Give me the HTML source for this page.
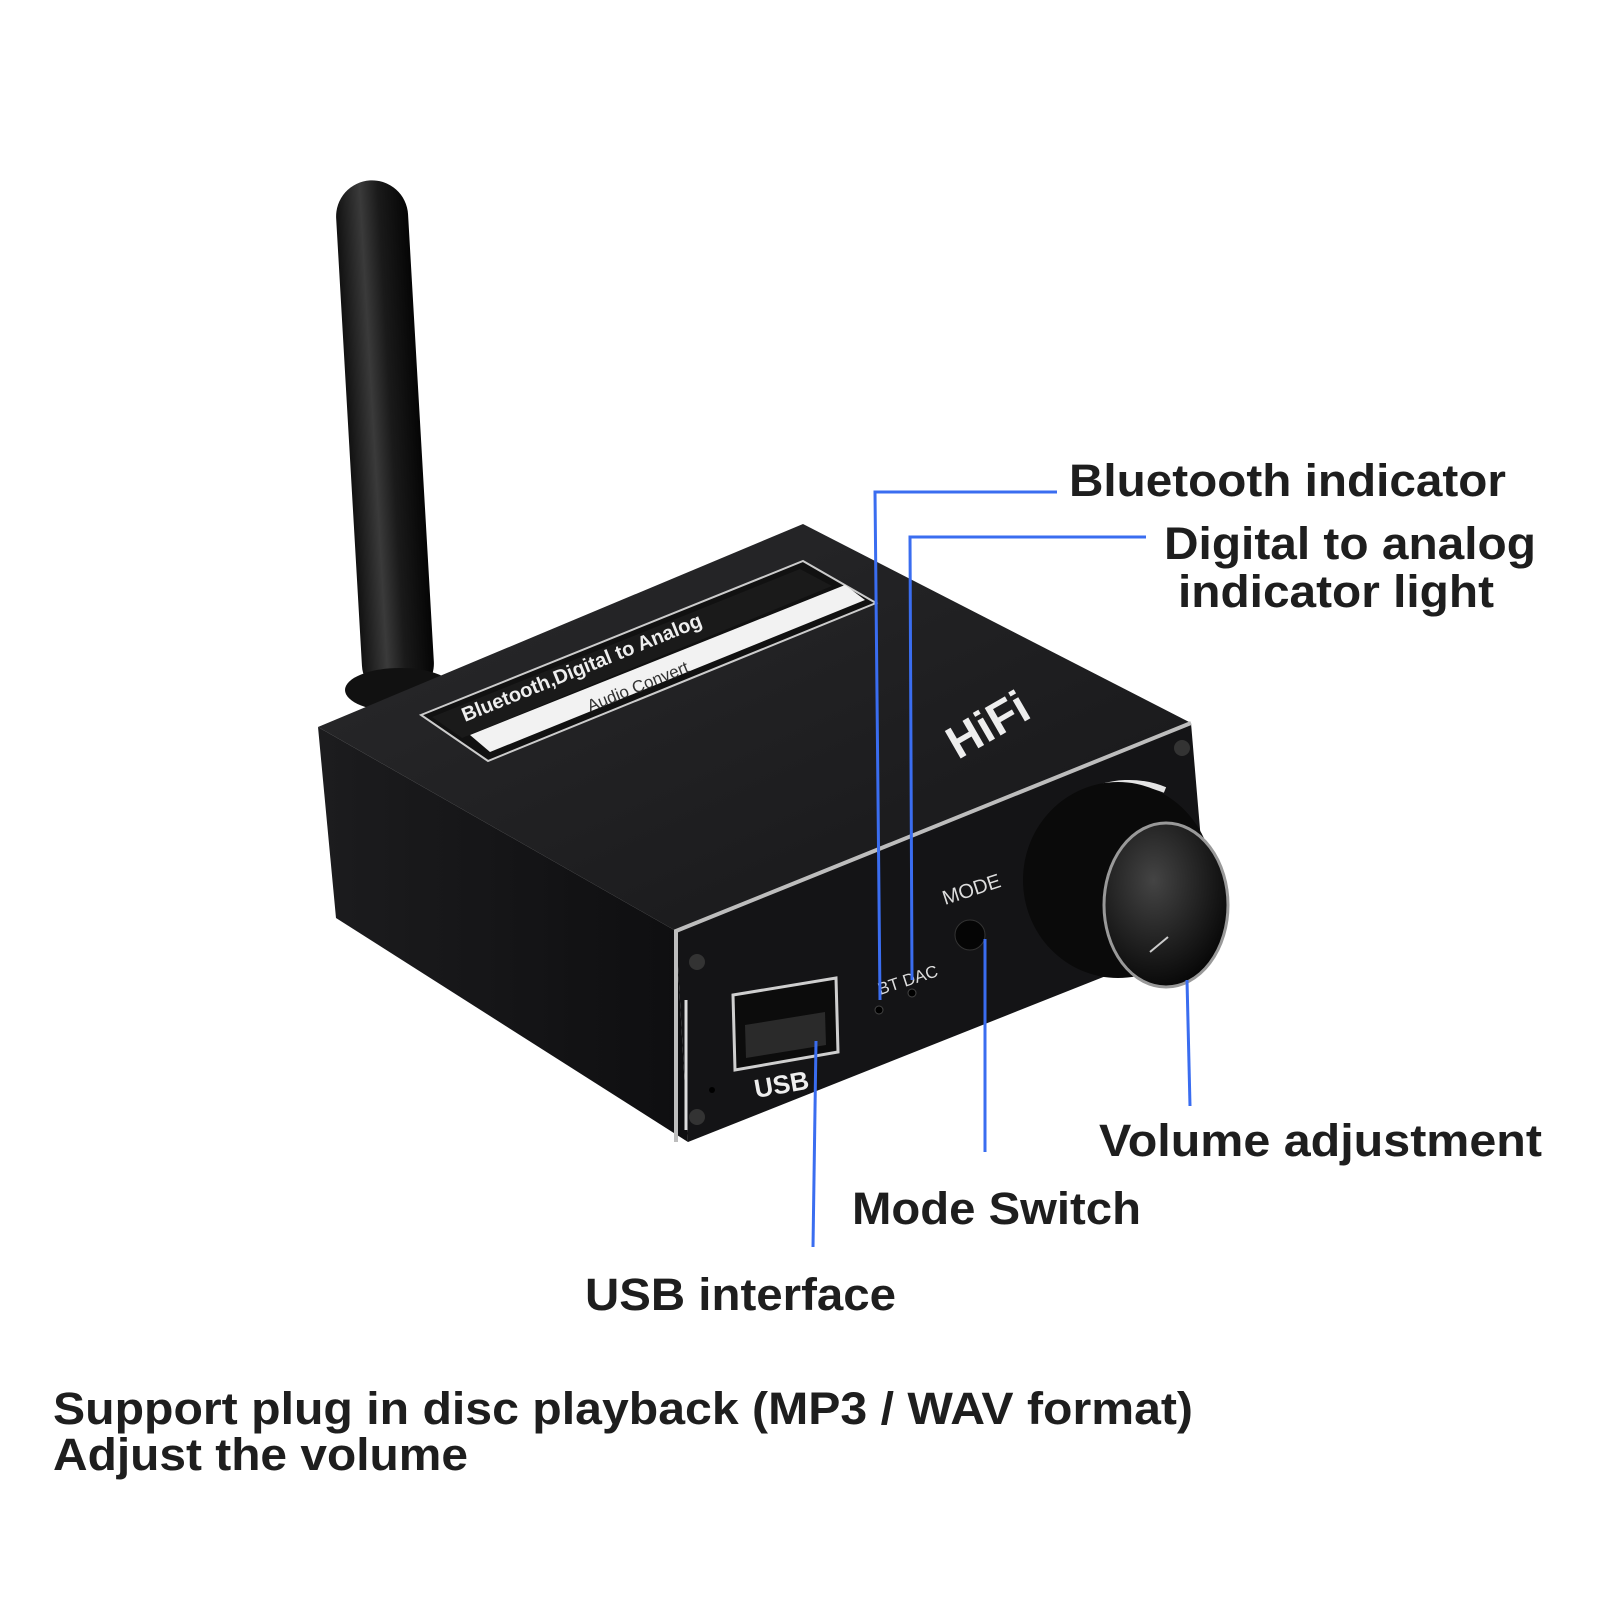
<!DOCTYPE html>
<html><head><meta charset="utf-8"><style>
html,body{margin:0;padding:0;background:#fff}
svg{display:block}
text{font-family:"Liberation Sans",Arial,sans-serif;font-weight:bold;fill:#1e1e1e}
</style></head><body>
<svg width="1600" height="1600" viewBox="0 0 1600 1600" xmlns="http://www.w3.org/2000/svg">
<defs>
<linearGradient id="ant" x1="0" x2="1" y1="0" y2="0">
<stop offset="0" stop-color="#111"/><stop offset="0.35" stop-color="#3a3a3a"/><stop offset="0.6" stop-color="#1a1a1a"/><stop offset="1" stop-color="#050505"/></linearGradient>
<linearGradient id="top" x1="0" y1="0" x2="1" y2="1"><stop offset="0" stop-color="#2a2a2c"/><stop offset="1" stop-color="#161618"/></linearGradient>
<linearGradient id="left" x1="0" y1="0" x2="1" y2="0"><stop offset="0" stop-color="#1c1c1e"/><stop offset="1" stop-color="#0e0e10"/></linearGradient>
<radialGradient id="knob" cx="0.4" cy="0.35" r="0.7"><stop offset="0" stop-color="#444"/><stop offset="1" stop-color="#050505"/></radialGradient>
</defs>

<g transform="rotate(-3.3 385 440)">
<rect x="349" y="180" width="72" height="520" rx="36" fill="url(#ant)"/>
</g>
<ellipse cx="400" cy="690" rx="55" ry="22" fill="#111"/>

<polygon points="318,727 803,524 1191,723 676,931" fill="url(#top)"/>
<polygon points="318,727 676,931 688,1142 336,918" fill="url(#left)"/>
<polygon points="676,931 1191,723 1209,935 688,1142" fill="#141416"/>
<polyline points="676,1142 676,931 1191,723" fill="none" stroke="#bdbdbd" stroke-width="4"/>
<line x1="686" y1="1000" x2="686" y2="1130" stroke="#ddd" stroke-width="3"/>

<polygon points="421,715 803,561 876,603 488,761" fill="#111" stroke="#ccc" stroke-width="2"/>
<polygon points="470,735 845,585 865,600 490,752" fill="#f2f2f2"/>
<polygon points="432,717 800,569 832,586 462,738" fill="#1a1a1a"/>
<text x="0" y="0" transform="translate(465,722) rotate(-22)" font-size="20" style="fill:#eee">Bluetooth,Digital to Analog</text>
<text x="0" y="0" transform="translate(590,712) rotate(-22)" font-size="17" style="fill:#333;font-weight:normal">Audio Convert</text>

<text x="0" y="0" transform="translate(958,760) rotate(-30)" font-size="46" style="fill:#eee">HiFi</text>

<path d="M1035,865 A95,95 0 0 1 1165,790" fill="none" stroke="#e5e5e5" stroke-width="6"/>
<ellipse cx="1118" cy="880" rx="95" ry="98" fill="#0a0a0a"/>
<ellipse cx="1166" cy="905" rx="62" ry="82" fill="url(#knob)" stroke="#999" stroke-width="3"/>
<line x1="1150" y1="952" x2="1168" y2="937" stroke="#ccc" stroke-width="2"/>

<text x="0" y="0" transform="translate(945,905) rotate(-18)" font-size="20" style="fill:#ddd;font-weight:normal">MODE</text>
<circle cx="970" cy="935" r="15" fill="#050505" stroke="#333"/>
<text x="0" y="0" transform="translate(880,995) rotate(-18)" font-size="17" style="fill:#ddd;font-weight:normal">BT DAC</text>
<circle cx="879" cy="1010" r="4" fill="#000" stroke="#444"/>
<circle cx="912" cy="993" r="4" fill="#000" stroke="#444"/>
<polygon points="733,995 836,978 838,1052 735,1070" fill="#0c0c0c" stroke="#cfcfcf" stroke-width="3"/>
<polygon points="745,1025 825,1012 826,1045 746,1058" fill="#2a2a2a"/>
<text x="0" y="0" transform="translate(756,1098) rotate(-10)" font-size="26" style="fill:#eee">USB</text>
<circle cx="697" cy="962" r="8" fill="#333"/>
<circle cx="697" cy="1117" r="8" fill="#333"/>
<circle cx="1182" cy="748" r="8" fill="#333"/>
<circle cx="712" cy="1090" r="3" fill="#000"/>

<g stroke="#3a6df0" stroke-width="3" fill="none">
<polyline points="1057,492 875,492 880,1000"/>
<polyline points="1146,537 910,537 912,980"/>
<line x1="985" y1="939" x2="985" y2="1152"/>
<line x1="816" y1="1041" x2="813" y2="1247"/>
<line x1="1187" y1="980" x2="1190" y2="1106"/>
</g>

<text x="1069" y="496" font-size="45" textLength="437" lengthAdjust="spacingAndGlyphs">Bluetooth indicator</text>
<text x="1164" y="559" font-size="45" textLength="372" lengthAdjust="spacingAndGlyphs">Digital to analog</text>
<text x="1178" y="607" font-size="45" textLength="316" lengthAdjust="spacingAndGlyphs">indicator light</text>
<text x="1099" y="1156" font-size="45" textLength="443" lengthAdjust="spacingAndGlyphs">Volume adjustment</text>
<text x="852" y="1224" font-size="45" textLength="289" lengthAdjust="spacingAndGlyphs">Mode Switch</text>
<text x="585" y="1310" font-size="45" textLength="311" lengthAdjust="spacingAndGlyphs">USB interface</text>
<text x="53" y="1424" font-size="45" textLength="1140" lengthAdjust="spacingAndGlyphs">Support plug in disc playback (MP3 / WAV format)</text>
<text x="53" y="1470" font-size="45" textLength="415" lengthAdjust="spacingAndGlyphs">Adjust the volume</text>
</svg>
</body></html>
